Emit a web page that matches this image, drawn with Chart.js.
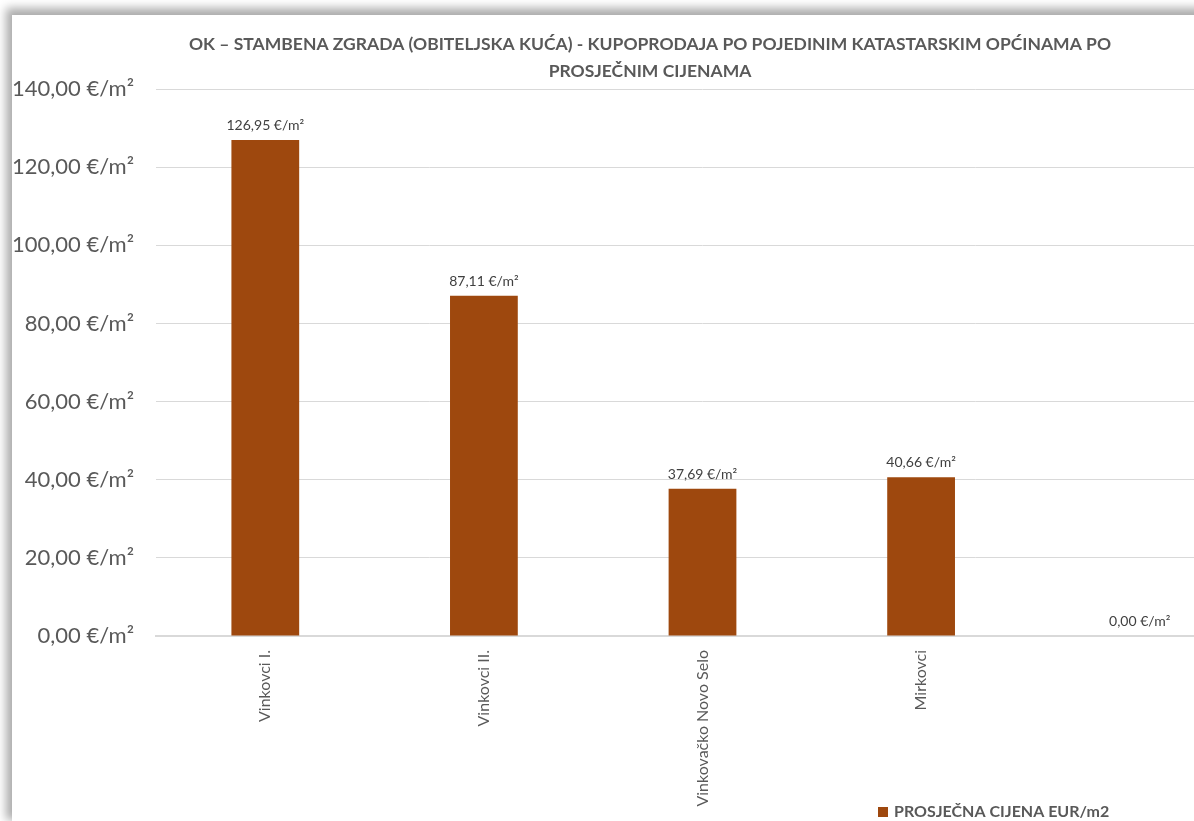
<!DOCTYPE html>
<html>
<head>
<meta charset="utf-8">
<script src="https://cdn.jsdelivr.net/npm/chart.js@4.4.1/dist/chart.umd.min.js"></script>
<style>
  html, body { margin: 0; padding: 0; background: #fff; overflow: hidden; width: 1194px; height: 821px; }
  #box {
    position: absolute; left: 12px; top: 15px; width: 1276px; height: 806px;
    background: #fff;
    box-shadow: -3px -4px 9px 3px rgba(0,0,0,0.33);
  }
</style>
</head>
<body>
<div id="box"><canvas id="bar_chart_cv"></canvas></div>
<script>
// podaci
var categories = ['Vinkovci I.', 'Vinkovci II.', 'Vinkovačko Novo Selo', 'Mirkovci', ''];
var prices = [126.95, 87.11, 37.69, 40.66, 0];
var seriesName = 'PROSJEČNA CIJENA EUR/m2';
var titleLines = ['OK – STAMBENA ZGRADA (OBITELJSKA KUĆA) - KUPOPRODAJA PO POJEDINIM KATASTARSKIM OPĆINAMA PO', 'PROSJEČNIM CIJENAMA'];
var yTicks = [0, 20, 40, 60, 80, 100, 120, 140];

var barColor = 'rgb(158,72,14)';
var fontName = 'Lato, "Open Sans", sans-serif';

function fmt(v) {
  return v.toFixed(2).replace('.', ',') + ' €/m²';
}

// oznake iznad stupaca
var dataLabelPlugin = {
  id: 'dataLabels',
  afterDatasetsDraw: function (chart) {
    var ctx = chart.ctx;
    var meta = chart.getDatasetMeta(0);
    ctx.save();
    ctx.fillStyle = '#404040';
    ctx.font = '14px ' + fontName;
    ctx.textAlign = 'center';
    ctx.textBaseline = 'alphabetic';
    meta.data.forEach(function (bar, i) {
      ctx.fillText(fmt(prices[i]), bar.x, bar.y - 10);
    });
    ctx.restore();
  }
};

// naslov centriran na cijelu širinu platna
var titleCenterPlugin = {
  id: 'titleCenter',
  afterLayout: function (chart) {
    var t = chart.titleBlock;
    if (t) {
      t.left = 0;
      t.right = chart.width;
      t.width = chart.width;
    }
  }
};

// legenda dolje desno
var legendPlugin = {
  id: 'customLegend',
  afterDraw: function (chart) {
    var ctx = chart.ctx;
    ctx.save();
    ctx.fillStyle = barColor;
    ctx.fillRect(866, 792, 10, 10);
    ctx.fillStyle = '#595959';
    ctx.font = 'bold 16px ' + fontName;
    ctx.textAlign = 'left';
    ctx.textBaseline = 'middle';
    ctx.fillText(seriesName, 882, 797);
    ctx.restore();
  }
};

var chart = new Chart('bar_chart_cv', {
  type: 'bar',
  data: {
    labels: categories,
    datasets: [{
      label: seriesName,
      data: prices,
      backgroundColor: barColor,
      barPercentage: 0.31,
      categoryPercentage: 1.0
    }]
  },
  options: {
    responsive: true,
    maintainAspectRatio: false,
    animation: false,
    layout: { padding: { left: 0, right: 39, top: 0, bottom: 0 } },
    plugins: {
      legend: { display: false },
      tooltip: { enabled: false },
      title: {
        display: true,
        text: titleLines,
        color: '#595959',
        font: { family: fontName, size: 17.5, weight: 'bold', lineHeight: 1.543 },
        padding: { top: 16, bottom: 4 }
      }
    },
    scales: {
      x: {
        grid: { display: false, drawTicks: false },
        border: { color: '#d9d9d9', width: 2 },
        ticks: {
          color: '#595959',
          font: { family: fontName, size: 16 },
          minRotation: 90,
          maxRotation: 90,
          padding: 14
        },
        afterFit: function (scale) { scale.height = 185; }
      },
      y: {
        min: 0,
        max: 140,
        afterBuildTicks: function (axis) {
          axis.ticks = yTicks.map(function (v) { return { value: v }; });
        },
        afterFit: function (scale) { scale.width = 144; },
        grid: { color: '#d9d9d9', drawTicks: false },
        border: { display: false },
        ticks: {
          color: '#595959',
          font: { family: fontName, size: 22 },
          padding: 22,
          callback: function (v) { return fmt(v); }
        }
      }
    }
  },
  plugins: [dataLabelPlugin, titleCenterPlugin, legendPlugin]
});
</script>
</body>
</html>
